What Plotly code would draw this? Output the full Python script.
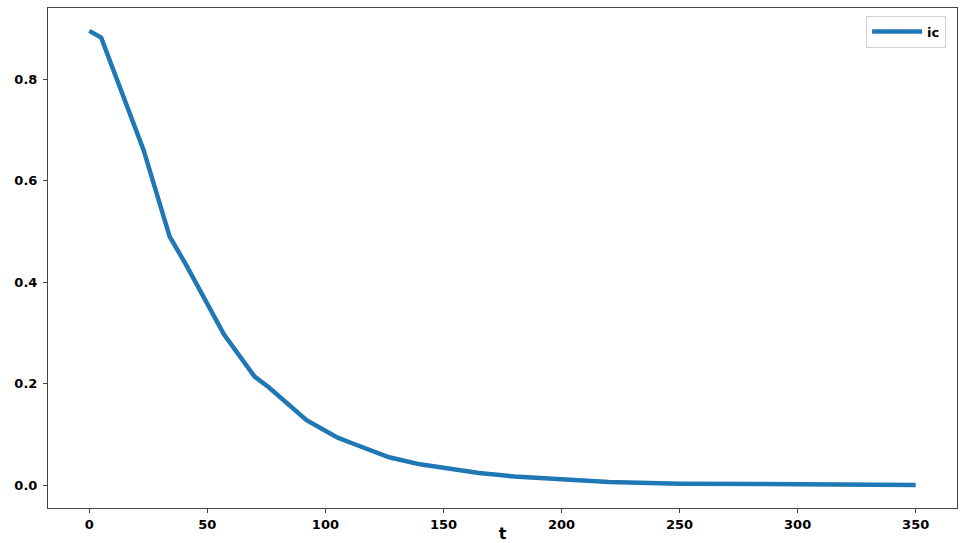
import plotly.graph_objects as go

t_values = [0, 5, 23, 34, 41, 57, 70, 76, 92, 105, 111, 127, 140, 150, 165, 180, 200, 220, 250, 300, 350]
ic_values = [0.895, 0.882, 0.66, 0.49, 0.434, 0.297, 0.214, 0.193, 0.128, 0.094, 0.083, 0.055,
             0.041, 0.034, 0.024, 0.017, 0.011, 0.006, 0.003, 0.0012, 0.0005]
x_ticks = [0, 50, 100, 150, 200, 250, 300, 350]
y_ticks = [0.0, 0.2, 0.4, 0.6, 0.8]

fig = go.Figure()
fig.add_trace(go.Scatter(x=t_values, y=ic_values, mode="lines", name="ic",
                         line=dict(color="#1f77b4", width=4.5)))

font_bold = dict(family="DejaVu Sans, sans-serif", size=13, color="black", weight="bold")

fig.update_layout(
    width=960, height=543,
    margin=dict(l=48, r=3, t=8, b=35),
    paper_bgcolor="white", plot_bgcolor="white",
    showlegend=True,
    legend=dict(x=0.988, y=0.985, xanchor="right", yanchor="top",
                bordercolor="#d0d0d0", borderwidth=1, bgcolor="white",
                itemwidth=50, font=font_bold),
    xaxis=dict(range=[-17.5, 367.5], tickvals=x_ticks, ticktext=[str(v) for v in x_ticks],
               automargin=False,
               showgrid=False, zeroline=False, showline=True, linecolor="#444", linewidth=1,
               mirror=True, ticks="outside", ticklen=4, tickcolor="#444",
               tickfont=font_bold,
               title=dict(text="t", font=dict(family="DejaVu Sans, sans-serif", size=16,
                                             color="black", weight="bold"))),
    yaxis=dict(range=[-0.045, 0.94], tickvals=y_ticks, ticktext=[f"{v:.1f}" for v in y_ticks],
               automargin=False,
               showgrid=False, zeroline=False, showline=True, linecolor="#444", linewidth=1,
               mirror=True, ticks="outside", ticklen=4, tickcolor="#444",
               ticklabelstandoff=3,
               tickfont=font_bold),
)

fig.write_html("out.html", config={"displayModeBar": False},
               post_script="document.body.style.margin='0';document.body.style.overflow='hidden';")
